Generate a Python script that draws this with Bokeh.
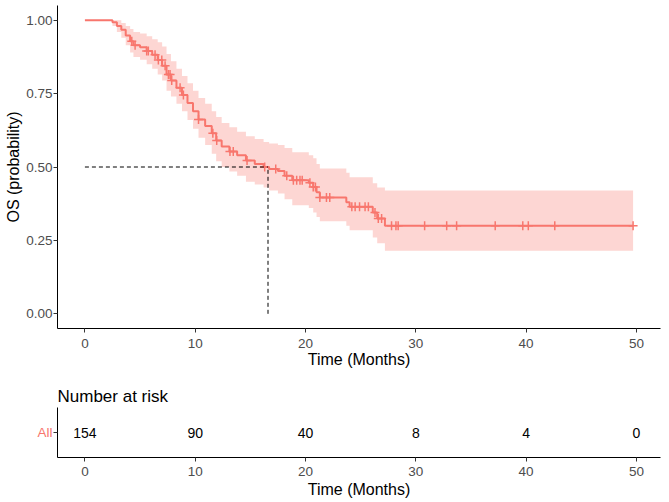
from bokeh.plotting import figure
from bokeh.layouts import column
from bokeh.models import Range1d, FixedTicker, NumeralTickFormatter, ColumnDataSource
from bokeh.core.properties import value
from bokeh.embed import file_html
from bokeh.resources import INLINE
import numpy as np

# Kaplan-Meier step data
time_pts = [0, 2.5, 2.9, 3.3, 3.7, 4.1, 4.4, 5.0, 5.6, 6.1, 6.6, 7.0, 7.4, 7.8, 8.3, 8.8,
            9.3, 9.8, 10.3, 10.9, 11.5, 11.9, 12.4, 13.1, 13.8, 14.6, 15.4, 16.2, 16.7,
            17.5, 18.1, 18.8, 20.3, 20.7, 21.0, 21.3, 23.7, 24.0, 26.1, 26.5, 27.2, 49.7]
surv = [1.0, 0.993, 0.98, 0.967, 0.948, 0.928, 0.915, 0.908, 0.895, 0.882, 0.864, 0.845,
        0.815, 0.795, 0.770, 0.745, 0.718, 0.690, 0.662, 0.640, 0.615, 0.590, 0.570, 0.553,
        0.540, 0.522, 0.510, 0.500, 0.493, 0.486, 0.470, 0.455, 0.446, 0.432, 0.414, 0.396,
        0.380, 0.365, 0.345, 0.325, 0.300, 0.300]
lower = [1.0, 0.98, 0.96, 0.94, 0.915, 0.89, 0.875, 0.865, 0.85, 0.835, 0.815, 0.795,
         0.76, 0.74, 0.715, 0.69, 0.66, 0.63, 0.60, 0.575, 0.545, 0.52, 0.50, 0.485,
         0.47, 0.45, 0.44, 0.43, 0.42, 0.41, 0.39, 0.37, 0.36, 0.345, 0.33, 0.315,
         0.30, 0.285, 0.26, 0.24, 0.215, 0.215]
upper = [1.0, 1.0, 1.0, 0.99, 0.98, 0.97, 0.96, 0.955, 0.945, 0.935, 0.925, 0.91,
         0.885, 0.86, 0.835, 0.81, 0.785, 0.76, 0.735, 0.715, 0.69, 0.67, 0.65, 0.635,
         0.62, 0.605, 0.595, 0.585, 0.58, 0.575, 0.565, 0.55, 0.54, 0.53, 0.51, 0.495,
         0.48, 0.465, 0.445, 0.43, 0.42, 0.42]

censor_times = [4.25, 4.55, 5.6, 5.75, 6.36, 6.66, 6.97, 7.27, 7.57, 7.72, 7.87, 8.63, 8.93,
                10.3, 11.6, 11.95, 13.15, 13.45, 14.7, 16.3, 17.3, 18.3, 18.9, 19.2, 19.5,
                19.7, 20.4, 20.7, 20.9, 21.3, 21.9, 22.2, 24.2, 24.5, 24.9, 25.4, 25.7,
                26.3, 26.6, 26.9, 27.8, 28.2, 28.4, 30.8, 32.8, 33.7, 37.2, 39.7, 40.2,
                42.6, 49.7]

median_time = 16.6
median_surv = 0.5

risk_times = [0, 10, 20, 30, 40, 50]
risk_counts = ["154", "90", "40", "8", "4", "0"]
x_ticks = [0, 10, 20, 30, 40, 50]
y_ticks = [0, 0.25, 0.5, 0.75, 1.0]

RED = "#F8766D"
FONT = "Liberation Sans"
X_MIN, X_MAX = -2.485, 52.185

idx = np.searchsorted(np.array(time_pts), np.array(censor_times), side="right") - 1
censor_surv = [surv[i] for i in idx]

def style_axes(p, xstand=5, xlab=2):
    for ax in (p.xaxis[0], p.yaxis[0]):
        ax.axis_line_color = "black"
        ax.axis_line_width = 1
        ax.major_tick_line_color = "#333333"
        ax.major_tick_out = 4
        ax.major_tick_in = 0
        ax.minor_tick_line_color = None
        ax.major_label_text_font = FONT
        ax.major_label_text_font_size = "13.5px"
        ax.major_label_text_color = "#4D4D4D"
        ax.axis_label_text_font = FONT
        ax.axis_label_text_font_size = "16px"
        ax.axis_label_text_font_style = "normal"
        ax.axis_label_text_color = "black"
    p.xaxis.major_label_standoff = xstand
    p.xaxis.axis_label_standoff = xlab
    p.yaxis.major_label_standoff = 1
    p.yaxis.axis_label_standoff = 1
    p.xgrid.grid_line_color = None
    p.ygrid.grid_line_color = None
    p.outline_line_color = None

p = figure(width=661, height=370, output_backend="svg", toolbar_location=None,
           x_range=Range1d(X_MIN, X_MAX), y_range=Range1d(-0.05, 1.05),
           min_border_left=57, min_border_right=1, min_border_top=5, min_border_bottom=40)
style_axes(p, xstand=6, xlab=0)
p.xaxis.ticker = FixedTicker(ticks=x_ticks)
p.yaxis.ticker = FixedTicker(ticks=y_ticks)
p.yaxis.formatter = NumeralTickFormatter(format="0.00")
p.xaxis.axis_label = "Time (Months)"
p.yaxis.axis_label = "OS (probability)"

p.varea_step(x=time_pts, y1=lower, y2=upper, step_mode="after",
             fill_color=RED, fill_alpha=0.3)
p.step(x=time_pts, y=surv, mode="after", line_color=RED, line_width=2)
p.scatter(x=censor_times, y=censor_surv, marker="cross", size=9,
          line_color=RED, line_width=1.5)
p.line(x=[0, median_time], y=[median_surv, median_surv], line_color="black",
       line_dash="4 3", line_width=1)
p.line(x=[median_time, median_time], y=[0, median_surv], line_color="black",
       line_dash="4 3", line_width=1)

t = figure(width=661, height=132, output_backend="svg", toolbar_location=None,
           x_range=Range1d(X_MIN, X_MAX), y_range=Range1d(-0.5, 0.5),
           min_border_left=57, min_border_right=1, min_border_top=37, min_border_bottom=45,
           title="Number at risk")
style_axes(t)
t.title.text_font = FONT
t.title.text_font_size = "17px"
t.title.text_font_style = "normal"
t.title.text_color = "black"
t.title.standoff = 0
t.title.vertical_align = "top"
t.xaxis.ticker = FixedTicker(ticks=x_ticks)
t.yaxis.ticker = FixedTicker(ticks=[0])
t.yaxis.major_label_overrides = {0: "All"}
t.yaxis.major_label_text_color = RED
t.xaxis.axis_label = "Time (Months)"

src = ColumnDataSource(dict(x=risk_times, y=[0] * len(risk_times), txt=risk_counts))
t.text(x="x", y="y", text="txt", source=src, text_align="center", text_baseline="middle",
       text_font=value(FONT), text_font_size="14px", text_color="black")

layout = column(p, t, spacing=0)
open("out.html", "w").write(file_html(layout, INLINE))
